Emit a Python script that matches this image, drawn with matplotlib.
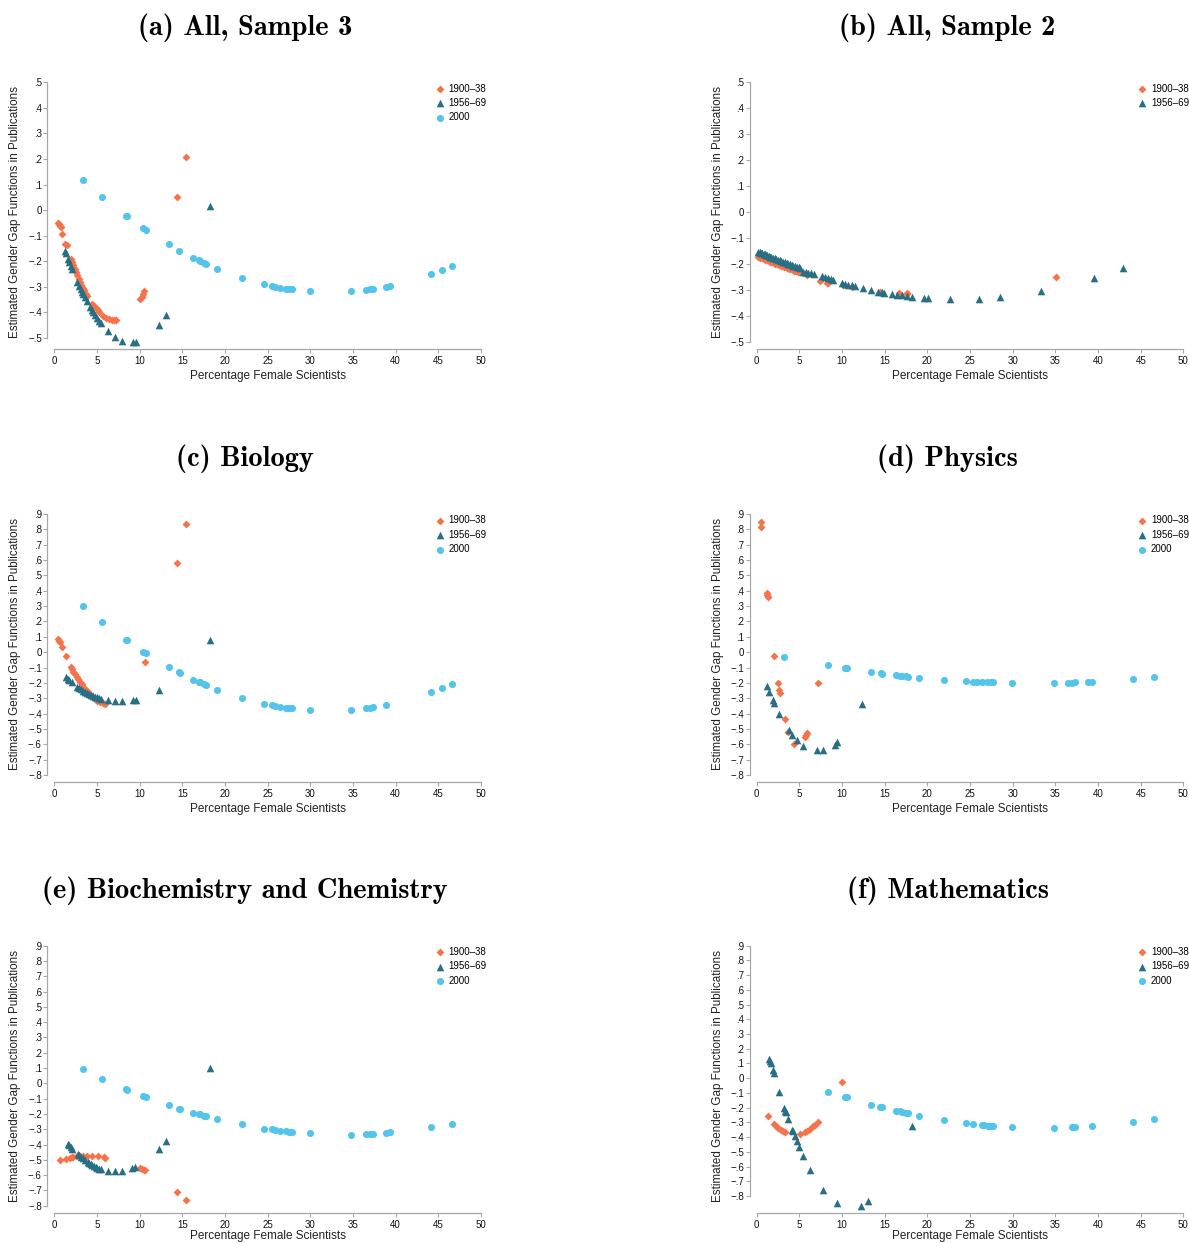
import matplotlib
matplotlib.use("Agg")
import matplotlib.pyplot as plt

plt.rcParams['font.family'] = ['Liberation Sans', 'DejaVu Sans']

ORANGE = "#F5734A"
TEAL = "#286F86"
SKY = "#53C4EB"
GRID = "#A8A8A8"

LAB_1900 = "1900\u201338"
LAB_1956 = "1956\u201369"
LAB_2000 = "2000"

# ---------------- (a) All, Sample 3
a_x_1900 = [0.47, 0.55, 0.66, 0.78, 0.9, 1.29, 1.45, 1.91, 2.07, 2.23, 2.38, 2.54, 2.7, 2.85,
            3.01, 3.16, 3.32, 3.48, 3.71, 3.87, 4.45, 4.65, 4.88, 5.08, 5.27, 5.74, 6.05,
            6.37, 6.72, 6.99, 7.23, 10.04, 10.23, 10.43, 10.55, 14.38, 15.47]
a_y_1900 = [-0.049, -0.056, -0.061, -0.066, -0.092, -0.133, -0.137, -0.19, -0.203, -0.216,
            -0.229, -0.242, -0.255, -0.268, -0.281, -0.294, -0.303, -0.314, -0.327, -0.334,
            -0.366, -0.374, -0.382, -0.39, -0.398, -0.416, -0.421, -0.425, -0.428, -0.429,
            -0.429, -0.348, -0.338, -0.327, -0.317, 0.052, 0.207]
a_x_1956 = [1.25, 1.37, 1.56, 1.72, 1.91, 2.07, 2.7, 2.93, 3.09, 3.24, 3.4, 3.63, 3.79, 4.18,
            4.38, 4.57, 4.77, 4.96, 5.2, 5.47, 6.33, 7.11, 7.89, 9.26, 9.57, 12.3, 13.13, 18.24]
a_y_1956 = [-0.158, -0.168, -0.19, -0.203, -0.22, -0.229, -0.282, -0.295, -0.308, -0.321,
            -0.33, -0.34, -0.354, -0.38, -0.39, -0.399, -0.412, -0.421, -0.432, -0.442,
            -0.474, -0.495, -0.51, -0.517, -0.517, -0.448, -0.41, 0.015]
a_x_2000 = [3.32, 5.63, 8.36, 8.52, 10.43, 10.7, 13.44, 14.6, 16.3, 16.9, 17.1, 17.6, 17.8,
            19.1, 22.0, 24.6, 25.5, 25.9, 26.4, 27.1, 27.5, 27.8, 30.0, 34.8, 36.5, 37.0,
            37.3, 38.9, 39.3, 44.1, 45.4, 46.6]
a_y_2000 = [0.117, 0.05, -0.022, -0.024, -0.07, -0.077, -0.134, -0.158, -0.186, -0.195, -0.2,
            -0.207, -0.21, -0.229, -0.265, -0.288, -0.296, -0.299, -0.303, -0.307, -0.309,
            -0.31, -0.317, -0.317, -0.312, -0.309, -0.308, -0.3, -0.296, -0.25, -0.233, -0.218]

# ---------------- (b) All, Sample 2
b_x_1900 = [0.2, 0.4, 0.6, 0.8, 1.0, 1.2, 1.4, 1.6, 1.8, 2.0, 2.2, 2.4, 2.6, 2.8, 3.0, 3.2,
            3.4, 3.6, 3.8, 4.0, 4.2, 4.4, 4.6, 4.8, 5.0, 5.47, 5.86, 7.43, 8.2, 8.4, 10.16,
            11.14, 14.46, 16.73, 17.6, 17.67, 35.03]
b_y_1900 = [-0.171, -0.174, -0.177, -0.179, -0.182, -0.185, -0.187, -0.19, -0.192, -0.195,
            -0.197, -0.2, -0.202, -0.205, -0.207, -0.21, -0.212, -0.214, -0.217, -0.219,
            -0.221, -0.224, -0.226, -0.228, -0.23, -0.235, -0.241, -0.264, -0.273, -0.27,
            -0.28, -0.289, -0.305, -0.309, -0.311, -0.314, -0.25]
b_x_1956 = [0.2, 0.35, 0.5, 0.65, 0.8, 0.95, 1.1, 1.25, 1.4, 1.55, 1.7, 1.9, 2.1, 2.3, 2.5,
            2.7, 2.9, 3.1, 3.3, 3.5, 3.7, 3.9, 4.1, 4.3, 4.5, 4.7, 4.9, 5.1, 5.47, 5.8, 6.05,
            6.4, 6.7, 7.6, 7.98, 8.38, 8.7, 8.97, 9.96, 10.35, 10.74, 11.13, 11.52, 12.49,
            13.37, 14.26, 14.65, 14.96, 15.83, 16.42, 17.0, 17.59, 18.18, 19.55, 20.06,
            22.6, 26.0, 28.54, 33.3, 39.5, 42.9]
b_y_1956 = [-0.151, -0.153, -0.155, -0.158, -0.16, -0.162, -0.164, -0.166, -0.168, -0.17,
            -0.172, -0.175, -0.177, -0.18, -0.183, -0.185, -0.188, -0.19, -0.193, -0.195,
            -0.198, -0.2, -0.203, -0.205, -0.207, -0.21, -0.212, -0.215, -0.228, -0.23,
            -0.232, -0.235, -0.238, -0.245, -0.25, -0.254, -0.257, -0.26, -0.27, -0.274,
            -0.278, -0.281, -0.283, -0.292, -0.299, -0.305, -0.308, -0.309, -0.314, -0.317,
            -0.319, -0.322, -0.324, -0.33, -0.331, -0.335, -0.334, -0.327, -0.304, -0.253,
            -0.214]

# ---------------- (c) Biology
c_x_1900 = [0.47, 0.59, 0.7, 0.94, 1.37, 1.91, 2.07, 2.23, 2.42, 2.62, 2.81, 3.01, 3.2, 3.4,
            3.59, 3.79, 4.02, 4.26, 4.49, 4.77, 5.04, 5.35, 5.66, 5.9, 10.59, 14.38, 15.47]
c_y_1900 = [0.084, 0.075, 0.064, 0.034, -0.025, -0.099, -0.112, -0.127, -0.142, -0.159,
            -0.177, -0.192, -0.207, -0.225, -0.24, -0.253, -0.268, -0.283, -0.294, -0.307,
            -0.316, -0.325, -0.331, -0.338, -0.064, 0.579, 0.835]
c_x_1956 = [1.33, 1.56, 1.76, 2.07, 2.7, 2.93, 3.16, 3.4, 3.63, 3.87, 4.1, 4.34, 4.57, 4.8,
            5.04, 5.27, 5.51, 6.33, 7.11, 7.89, 9.26, 9.57, 12.3, 18.24]
c_y_1956 = [-0.164, -0.175, -0.181, -0.194, -0.225, -0.232, -0.241, -0.252, -0.26, -0.267,
            -0.273, -0.28, -0.286, -0.29, -0.294, -0.301, -0.305, -0.314, -0.318, -0.32,
            -0.314, -0.311, -0.248, 0.081]
c_x_2000 = [3.32, 5.63, 8.36, 8.52, 10.43, 10.7, 13.44, 14.6, 14.7, 16.3, 16.9, 17.1, 17.6,
            17.8, 19.1, 22.0, 24.6, 25.5, 25.9, 26.4, 27.1, 27.5, 27.8, 30.0, 34.8, 36.5,
            37.0, 37.3, 38.9, 44.1, 45.4, 46.6]
c_y_2000 = [0.301, 0.194, 0.081, 0.077, 0.003, -0.005, -0.094, -0.129, -0.133, -0.179,
            -0.192, -0.196, -0.209, -0.216, -0.246, -0.298, -0.335, -0.346, -0.351, -0.355,
            -0.361, -0.364, -0.366, -0.379, -0.377, -0.366, -0.364, -0.359, -0.344, -0.262,
            -0.236, -0.207]

# ---------------- (d) Physics
d_x_1900 = [0.47, 0.51, 1.22, 1.26, 1.29, 2.03, 2.54, 2.66, 2.74, 3.32, 3.71, 4.41, 5.67,
            5.77, 5.86, 7.15]
d_y_1900 = [0.85, 0.813, 0.383, 0.372, 0.361, -0.025, -0.203, -0.246, -0.268, -0.435,
            -0.518, -0.598, -0.55, -0.54, -0.527, -0.199]
d_x_1956 = [1.17, 1.48, 1.88, 2.03, 2.66, 3.75, 4.1, 4.69, 5.39, 7.04, 7.74, 9.14, 9.46, 12.31]
d_y_1956 = [-0.218, -0.261, -0.31, -0.33, -0.404, -0.505, -0.537, -0.572, -0.609, -0.638,
            -0.634, -0.605, -0.588, -0.34]
d_x_2000 = [3.24, 8.41, 10.36, 10.63, 13.37, 14.54, 14.66, 16.3, 16.8, 17.0, 17.5, 17.7,
            19.0, 21.9, 24.5, 25.4, 25.8, 26.4, 27.0, 27.4, 27.7, 29.9, 34.8, 36.5, 37.0,
            37.3, 38.8, 39.3, 44.1, 46.5]
d_y_2000 = [-0.029, -0.086, -0.103, -0.105, -0.129, -0.138, -0.14, -0.149, -0.153, -0.155,
            -0.157, -0.159, -0.166, -0.181, -0.19, -0.192, -0.193, -0.194, -0.195, -0.196,
            -0.196, -0.2, -0.2, -0.199, -0.199, -0.196, -0.194, -0.192, -0.175, -0.162]

# ---------------- (e) Biochemistry and Chemistry
e_x_1900 = [0.66, 1.33, 1.84, 2.03, 2.23, 2.62, 3.01, 3.4, 3.79, 4.41, 5.12, 5.82, 5.98,
            10.04, 10.23, 10.51, 10.66, 14.38, 15.47]
e_y_1900 = [-0.501, -0.493, -0.486, -0.484, -0.482, -0.478, -0.475, -0.475, -0.475, -0.478,
            -0.478, -0.482, -0.486, -0.552, -0.558, -0.565, -0.569, -0.711, -0.765]
e_x_1956 = [1.56, 1.76, 1.95, 2.11, 2.73, 2.93, 3.13, 3.32, 3.55, 3.91, 4.1, 4.26, 4.45,
            4.65, 4.84, 5.04, 5.23, 5.47, 6.33, 7.11, 7.89, 9.14, 9.49, 12.3, 13.13, 18.24]
e_y_1956 = [-0.395, -0.406, -0.419, -0.43, -0.462, -0.471, -0.48, -0.491, -0.501, -0.517,
            -0.523, -0.53, -0.536, -0.543, -0.549, -0.554, -0.558, -0.562, -0.571, -0.573,
            -0.573, -0.552, -0.545, -0.43, -0.379, 0.102]
e_x_2000 = [3.32, 5.63, 8.36, 8.52, 10.43, 10.7, 13.44, 14.6, 14.7, 16.3, 16.9, 17.1, 17.6,
            17.8, 19.1, 22.0, 24.6, 25.5, 25.9, 26.4, 27.1, 27.5, 27.8, 30.0, 34.8, 36.5,
            37.0, 37.3, 38.9, 39.3, 44.1, 46.6]
e_y_2000 = [0.091, 0.028, -0.039, -0.042, -0.083, -0.09, -0.144, -0.166, -0.168, -0.194,
            -0.2, -0.203, -0.212, -0.216, -0.236, -0.268, -0.297, -0.301, -0.305, -0.31,
            -0.314, -0.316, -0.318, -0.327, -0.336, -0.331, -0.331, -0.329, -0.323, -0.321,
            -0.288, -0.264]

# ---------------- (f) Mathematics
f_x_1900 = [1.29, 2.03, 2.27, 2.54, 2.82, 3.05, 3.32, 5.08, 5.67, 5.94, 6.25, 6.57, 6.87,
            7.15, 10.0]
f_y_1900 = [-0.26, -0.31, -0.326, -0.34, -0.351, -0.36, -0.367, -0.378, -0.365, -0.356,
            -0.344, -0.328, -0.315, -0.299, -0.027]
f_x_1956 = [1.45, 1.56, 1.68, 1.88, 2.03, 2.66, 3.2, 3.32, 3.4, 3.71, 4.1, 4.22, 4.45, 4.69,
            5.0, 5.39, 6.25, 7.82, 9.42, 12.28, 13.06, 18.14]
f_y_1956 = [0.132, 0.116, 0.105, 0.057, 0.034, -0.095, -0.201, -0.22, -0.231, -0.276,
            -0.349, -0.362, -0.394, -0.424, -0.469, -0.526, -0.621, -0.759, -0.849, -0.866,
            -0.835, -0.322]
f_x_2000 = [8.4, 10.4, 10.6, 13.4, 14.5, 14.7, 16.3, 16.8, 17.0, 17.5, 17.7, 19.0, 21.9,
            24.5, 25.4, 26.4, 26.6, 27.1, 27.5, 27.7, 29.9, 34.8, 37.0, 37.3, 39.3, 44.1, 46.5]
f_y_2000 = [-0.093, -0.127, -0.131, -0.179, -0.195, -0.197, -0.22, -0.226, -0.229, -0.236,
            -0.238, -0.254, -0.283, -0.303, -0.31, -0.315, -0.317, -0.322, -0.324, -0.324,
            -0.331, -0.338, -0.331, -0.331, -0.326, -0.297, -0.276]

ticks_small = [-0.5, -0.4, -0.3, -0.2, -0.1, 0, 0.1, 0.2, 0.3, 0.4, 0.5]
ticks_big = [-0.8, -0.7, -0.6, -0.5, -0.4, -0.3, -0.2, -0.1, 0, 0.1, 0.2, 0.3, 0.4, 0.5,
             0.6, 0.7, 0.8, 0.9]
xticks = [0, 5, 10, 15, 20, 25, 30, 35, 40, 45, 50]


def tick_text(v):
    if abs(v) < 1e-9:
        return "0"
    s = ("%.1f" % abs(v)).lstrip("0")
    return ("\u2212" + s) if v < 0 else s


W, H = 1189, 1243
fig = plt.figure(figsize=(W / 100, H / 100), dpi=100)

col_left = [54.3, 756.7]
col_w = 426.7
rows = [(82.3, 342.3), (514.0, 775.0), (945.7, 1205.7)]
xlab_gap = [28, 28, 24]   # last row: keep the label inside the canvas

panels = [
    ("(a) All, Sample 3", a_x_1900, a_y_1900, a_x_1956, a_y_1956, a_x_2000, a_y_2000, ticks_small),
    ("(b) All, Sample 2", b_x_1900, b_y_1900, b_x_1956, b_y_1956, None, None, ticks_small),
    ("(c) Biology", c_x_1900, c_y_1900, c_x_1956, c_y_1956, c_x_2000, c_y_2000, ticks_big),
    ("(d) Physics", d_x_1900, d_y_1900, d_x_1956, d_y_1956, d_x_2000, d_y_2000, ticks_big),
    ("(e) Biochemistry and Chemistry", e_x_1900, e_y_1900, e_x_1956, e_y_1956, e_x_2000, e_y_2000, ticks_big),
    ("(f) Mathematics", f_x_1900, f_y_1900, f_x_1956, f_y_1956, f_x_2000, f_y_2000, ticks_big),
]

for i, (title, x1, y1, x2, y2, x3, y3, yt) in enumerate(panels):
    r, c = divmod(i, 2)
    top, bot = rows[r]
    left = col_left[c]
    ax = fig.add_axes([left / W, 1 - bot / H, col_w / W, (bot - top) / H])

    ax.scatter(x1, y1, marker="D", s=16, color=ORANGE, linewidths=0, label=LAB_1900,
               zorder=3, clip_on=False)
    ax.scatter(x2, y2, marker="^", s=30, color=TEAL, linewidths=0, label=LAB_1956,
               zorder=4, clip_on=False)
    if x3 is not None:
        ax.scatter(x3, y3, marker="o", s=26, color=SKY, linewidths=0, label=LAB_2000,
                   zorder=5, clip_on=False)

    allv = list(y1) + list(y2) + (list(y3) if y3 is not None else [])
    ax.set_xlim(0, 50)
    ax.set_ylim(min(yt[0], min(allv)), yt[-1])

    for side in ("top", "right"):
        ax.spines[side].set_visible(False)
    for side in ("left", "bottom"):
        ax.spines[side].set_position(("outward", 5))
        ax.spines[side].set_color(GRID)
        ax.spines[side].set_linewidth(0.9)
    ax.spines["left"].set_bounds(yt[0], yt[-1])
    ax.spines["bottom"].set_bounds(0, 50)

    ax.set_xticks(xticks)
    ax.set_xticklabels([str(t) for t in xticks])
    ax.set_yticks(yt)
    ax.set_yticklabels([tick_text(t) for t in yt])
    ax.tick_params(axis="both", length=3, width=0.8, color=GRID, labelsize=7, labelcolor="#111111")
    ax.tick_params(axis="y", pad=1)
    ax.tick_params(axis="x", pad=2)

    ax.set_xlabel("Percentage Female Scientists", fontsize=8.5, color="#222222")
    ax.set_ylabel("Estimated Gender Gap Functions in Publications", fontsize=8.4, color="#222222")
    ax.xaxis.set_label_coords(0.5, -xlab_gap[r] / (bot - top))
    ax.yaxis.set_label_coords(-33 / col_w, 0.5)

    ax.legend(loc="upper left", bbox_to_anchor=(0.8945, 0.995), frameon=False, fontsize=7,
              handlelength=0.8, handletextpad=0.5, labelspacing=0.45, borderpad=0,
              borderaxespad=0, scatterpoints=1)

    fig.text((left + col_w / 2 - 22.5) / W, 1 - (top - 55) / H, title,
             family=["cmb10", "DejaVu Serif"], fontsize=20.5, ha="center", va="center")

fig.savefig("out.png", dpi=100)
